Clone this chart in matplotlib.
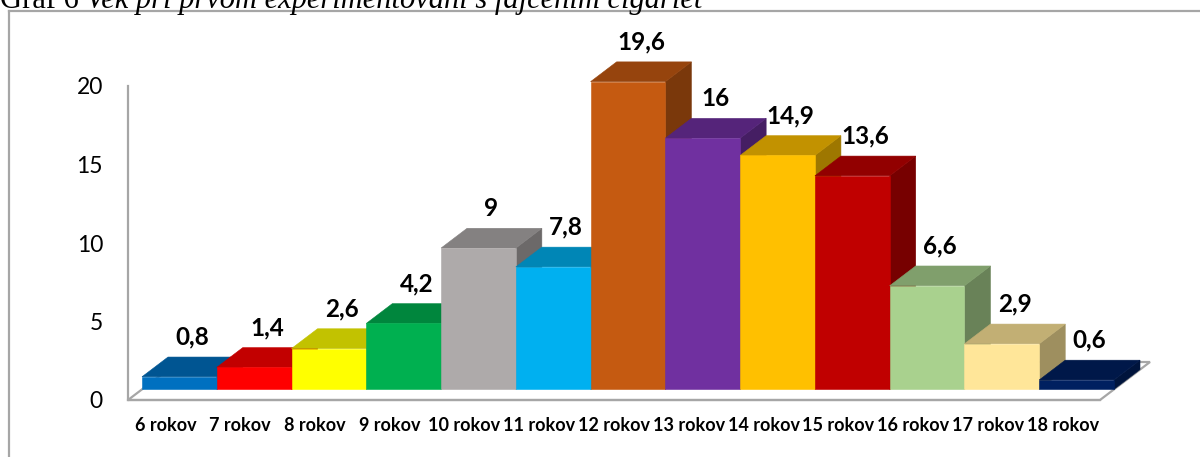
import matplotlib
matplotlib.use("Agg")
import matplotlib.pyplot as plt
from matplotlib.patches import Polygon
from matplotlib.lines import Line2D
import matplotlib.colors as mcolors

# ---- data ----
categories = ["6 rokov", "7 rokov", "8 rokov", "9 rokov", "10 rokov", "11 rokov",
              "12 rokov", "13 rokov", "14 rokov", "15 rokov", "16 rokov", "17 rokov", "18 rokov"]
values = [0.8, 1.4, 2.6, 4.2, 9, 7.8, 19.6, 16, 14.9, 13.6, 6.6, 2.9, 0.6]
value_labels = ["0,8", "1,4", "2,6", "4,2", "9", "7,8", "19,6", "16", "14,9", "13,6", "6,6", "2,9", "0,6"]
bar_colors = ["#0070C0", "#FF0000", "#FFFF00", "#00B050", "#AEAAAA", "#00B0F0",
              "#C55A11", "#7030A0", "#FFC000", "#C00000", "#A9D18E", "#FFE699", "#002060"]
yticks = [0, 5, 10, 15, 20]
title_plain = "Graf 6 "
title_italic = "Vek pri prvom experimentovaní s fajčením cigariet"

W, H = 1200, 457
fig = plt.figure(figsize=(W / 100, H / 100), dpi=100)

# outer frame (top & left visible)
frame_col = "#A6A6A6"
fig.add_artist(Line2D([9 / W, 1.0], [1 - 11 / H, 1 - 11 / H], color=frame_col, lw=1.6,
                      transform=fig.transFigure))
fig.add_artist(Line2D([9 / W, 9 / W], [0, 1 - 11 / H], color=frame_col, lw=1.6,
                      transform=fig.transFigure))

# main axes: front plane of the floor
ax_left, ax_right = 128, 1100
ax_bottom_px, ax_top_px = 400, 86
ax = fig.add_axes([ax_left / W, 1 - ax_bottom_px / H, (ax_right - ax_left) / W,
                   (ax_bottom_px - ax_top_px) / H])
n = len(values)
ax.set_xlim(0, n)
ax.set_ylim(0, 20)
ax.patch.set_alpha(0)

# depth vector (per unit depth) in data units
px_per_x = (ax_right - ax_left) / n
px_per_y = (ax_bottom_px - ax_top_px) / 20
ddx = 50 / px_per_x
ddy = 38 / px_per_y
d0, d1 = 0.28, 0.80

for s in ["top", "right"]:
    ax.spines[s].set_visible(False)
for s in ["left", "bottom"]:
    ax.spines[s].set_color(frame_col)
    ax.spines[s].set_linewidth(1.6)

# floor
floor = Polygon([(0, 0), (n, 0), (n + ddx, ddy), (ddx, ddy)], closed=True,
                facecolor="white", edgecolor=frame_col, lw=1.6, zorder=1, clip_on=False)
ax.add_patch(floor)


def shade(c, f):
    r, g, b = mcolors.to_rgb(c)
    return (r * f, g * f, b * f)


z = 2
for i, (v, c) in enumerate(zip(values, bar_colors)):
    fx0 = i + ddx * d0
    fy0 = ddy * d0
    bx = ddx * (d1 - d0)
    by = ddy * (d1 - d0)
    # side face
    side = Polygon([(fx0 + 1, fy0), (fx0 + 1 + bx, fy0 + by), (fx0 + 1 + bx, fy0 + by + v),
                    (fx0 + 1, fy0 + v)], closed=True, facecolor=shade(c, 0.62),
                   edgecolor=shade(c, 0.62), lw=0.4, zorder=z, clip_on=False)
    top = Polygon([(fx0, fy0 + v), (fx0 + 1, fy0 + v), (fx0 + 1 + bx, fy0 + by + v),
                   (fx0 + bx, fy0 + by + v)], closed=True, facecolor=shade(c, 0.76),
                  edgecolor=shade(c, 0.76), lw=0.4, zorder=z + 1, clip_on=False)
    front = Polygon([(fx0, fy0), (fx0 + 1, fy0), (fx0 + 1, fy0 + v), (fx0, fy0 + v)],
                    closed=True, facecolor=c, edgecolor=c, lw=0.4, zorder=z + 2, clip_on=False)
    ax.add_patch(side)
    ax.add_patch(top)
    ax.add_patch(front)
    z += 3

for i, (v, lab) in enumerate(zip(values, value_labels)):
    xc = i + 0.5 + ddx * (d0 + d1) / 2
    yb = v + ddy * d1 + 0.55
    ax.text(xc, yb, lab, ha="center", va="bottom", fontsize=17.5, fontweight="bold",
            family="Lato", color="black", zorder=100)

ax.set_yticks(yticks)
ax.set_yticklabels([str(t) for t in yticks], fontsize=16.5, family="Lato")
ax.set_xticks([i + 0.5 for i in range(n)])
ax.set_xticklabels(categories, fontsize=13, fontweight="bold", family="Lato")
ax.tick_params(axis="y", length=0, pad=18)
ax.tick_params(axis="x", length=0, pad=12)

# title (cut off at top)
t1 = fig.text(0.0, 1 - 8 / H, title_plain, fontsize=22, family="Liberation Serif",
              va="baseline", ha="left")
fig.canvas.draw()
bb = t1.get_window_extent()
fig.text(bb.x1 / W, 1 - 8 / H, title_italic, fontsize=22, family="Liberation Serif",
         style="italic", va="baseline", ha="left")

fig.savefig("out.png", dpi=100)
